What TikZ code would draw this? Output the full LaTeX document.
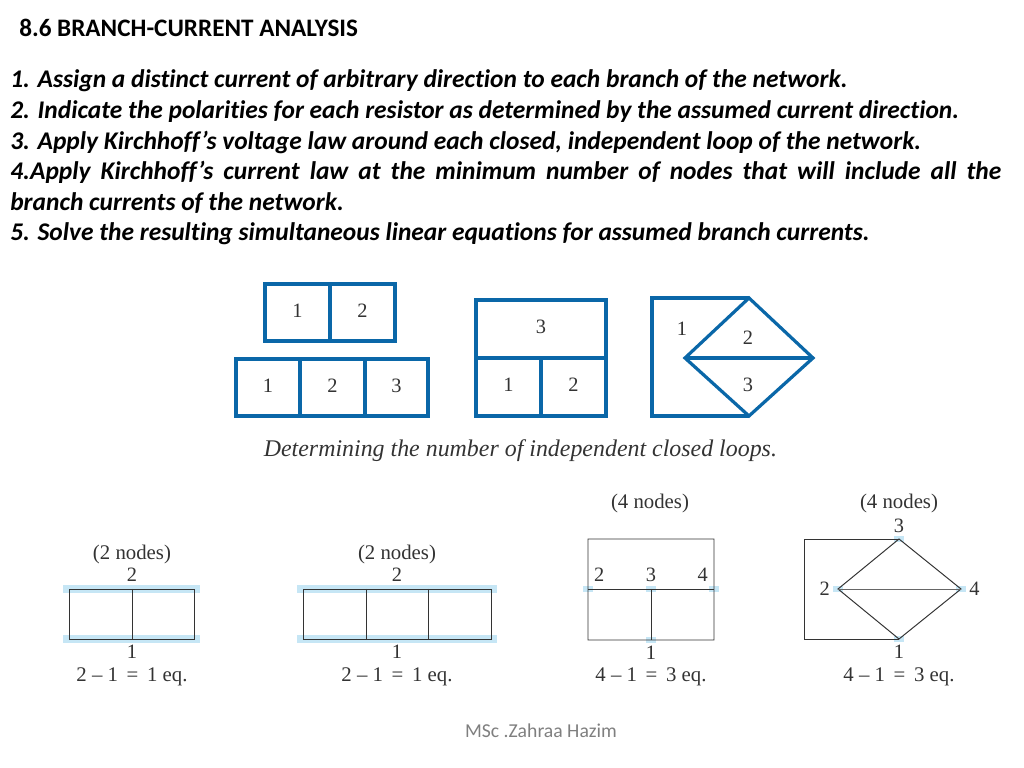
\documentclass[tikz,border=0pt]{standalone}
\usepackage{fontspec}
\setmainfont[Ligatures=NoCommon]{Carlito}
\newfontfamily\figfont{Liberation Serif}
\usepackage{tikz}
\usetikzlibrary{positioning, calc}
\usepackage{xcolor}
\definecolor{loopblue}{HTML}{0A67A8}
\definecolor{markblue}{HTML}{C6E6F5}
\definecolor{inkgray}{HTML}{333333}
\definecolor{footgray}{HTML}{7F7F7F}

\begin{document}
\begin{tikzpicture}[
    loop_line/.style={draw=loopblue, line width=2.8pt, line join=miter},
    thin_line/.style={draw=loopblue, line width=2.3pt},
    net_line/.style={draw=black!80, line width=.7pt},
    node_bar/.style={draw=markblue, line width=5pt, shorten >=-.14cm, shorten <=-.14cm},
    node_dot/.style={rectangle, fill=markblue, minimum width=.25cm, minimum height=.16cm, inner sep=0},
    digit/.style={inner sep=0, text=inkgray, font=\figfont\fontsize{14.5}{14.5}\selectfont},
    note/.style={inner sep=0, text=inkgray, font=\figfont\fontsize{14.8}{14.8}\selectfont}]
    \useasboundingbox (0,0) rectangle (25.6,19.2);

    % Heading
    \node[anchor=west, inner sep=0, font=\bfseries\fontsize{17.9}{20}\selectfont] (title) at (.475,18.5) {8.6 BRANCH-CURRENT ANALYSIS};
    \node[anchor=north west, inner sep=0, text width=24.775cm, align=justify,
        font=\bfseries\itshape\fontsize{18.1}{21.8}\selectfont] (steps) at (.25,17.46) {%
        1. Assign a distinct current of arbitrary direction to each branch of the network.\par
        2. Indicate the polarities for each resistor as determined by the assumed current direction.\par
        3. Apply Kirchhoff’s voltage law around each closed, independent loop of the network.\par
        4.Apply Kirchhoff’s current law at the minimum number of nodes that will include all the\linebreak branch currents of the network.\par
        5. Solve the resulting simultaneous linear equations for assumed branch currents.};

    % Two loops
    \coordinate (a0) at (6.625,12.1);
    \coordinate[right=1.625 of a0] (a1);
    \coordinate[right=1.625 of a1] (a2);
    \coordinate[below=1.425 of a0] (a3);
    \coordinate[below=1.425 of a1] (a4);
    \coordinate[below=1.425 of a2] (a5);
    \draw[loop_line] (a0) -- (a2) -- (a5) -- (a3) -- cycle;
    \draw[loop_line] (a1) -- (a4);
    \node[digit] (a_l1) at ($(a0)!.5!(a4)+(0,.05)$) {1};
    \node[digit] (a_l2) at ($(a1)!.5!(a5)+(0,.05)$) {2};

    % Three loops in a row
    \coordinate (b0) at (5.9,10.225);
    \coordinate[right=1.6 of b0] (b1);
    \coordinate[right=1.625 of b1] (b2);
    \coordinate[right=1.575 of b2] (b3);
    \coordinate[below=1.425 of b0] (b4);
    \coordinate[below=1.425 of b1] (b5);
    \coordinate[below=1.425 of b2] (b6);
    \coordinate[below=1.425 of b3] (b7);
    \draw[loop_line] (b0) -- (b3) -- (b7) -- (b4) -- cycle;
    \draw[loop_line] (b1) -- (b5);
    \draw[loop_line] (b2) -- (b6);
    \node[digit] (b_l1) at ($(b0)!.5!(b5)+(0,.05)$) {1};
    \node[digit] (b_l2) at ($(b1)!.5!(b6)+(0,.05)$) {2};
    \node[digit] (b_l3) at ($(b2)!.5!(b7)+(0,.05)$) {3};

    % Window shape
    \coordinate (c0) at (11.9,11.7);
    \coordinate[right=3.25 of c0] (c1);
    \coordinate[below=1.45 of c0] (c2);
    \coordinate[right=1.625 of c2] (c3);
    \coordinate[right=1.625 of c3] (c4);
    \coordinate[below=1.45 of c2] (c5);
    \coordinate[below=1.45 of c3] (c6);
    \coordinate[below=1.45 of c4] (c7);
    \draw[loop_line] (c0) -- (c1) -- (c7) -- (c5) -- cycle;
    \draw[loop_line] (c2) -- (c4);
    \draw[loop_line] (c3) -- (c6);
    \node[digit] (c_l3) at ($(c0)!.5!(c4)+(0,.05)$) {3};
    \node[digit] (c_l1) at ($(c2)!.5!(c6)+(0,.05)$) {1};
    \node[digit] (c_l2) at ($(c3)!.5!(c7)+(0,.05)$) {2};

    % Diamond shape
    \coordinate (d0) at (16.3,11.75);
    \coordinate[right=2.425 of d0] (d1);
    \coordinate[below left=1.5 and 1.6 of d1] (d2);
    \coordinate[below right=1.5 and 1.6 of d1] (d3);
    \coordinate[below=2.95 of d1] (d4);
    \coordinate[below=2.95 of d0] (d5);
    \draw[loop_line] (d4) -- (d5) -- (d0) -- (d1);
    \draw[thin_line] (d1) -- (d3) -- (d4) -- (d2) -- cycle;
    \draw[thin_line] (d2) -- (d3);
    \node[digit] (d_l1) at (17.05,10.975) {1};
    \node[digit] (d_l2) at (18.7,10.75) {2};
    \node[digit] (d_l3) at (18.7,9.575) {3};

    \node[inner sep=0, text=inkgray, font=\figfont\itshape\fontsize{17}{17}\selectfont] (caption) at (13.01,7.925) {Determining the number of independent closed loops.};

    % Network 1
    \coordinate (e0) at (1.725,4.475);
    \coordinate[right=1.575 of e0] (e1);
    \coordinate[right=1.55 of e1] (e2);
    \coordinate[below=1.25 of e0] (e3);
    \coordinate[below=1.25 of e1] (e4);
    \coordinate[below=1.25 of e2] (e5);
    \draw[node_bar] (e0) -- (e2);
    \draw[node_bar] (e3) -- (e5);
    \draw[net_line] (e0) -- (e2) -- (e5) -- (e3) -- cycle;
    \draw[net_line] (e1) -- (e4);
    \node[digit, above=.17 of e1] (e_top) {2};
    \node[note, above=.1 of e_top] (e_count) {(2 nodes)};
    \node[digit, below=.15 of e4] (e_bot) {1};
    \node[note, below=.22 of e_bot] (e_eq) {2 – 1 \,=\, 1 eq.};

    % Network 2
    \coordinate (f0) at (7.575,4.475);
    \coordinate[right=1.575 of f0] (f1);
    \coordinate[right=1.55 of f1] (f2);
    \coordinate[right=1.575 of f2] (f3);
    \coordinate[below=1.25 of f0] (f4);
    \coordinate[below=1.25 of f1] (f5);
    \coordinate[below=1.25 of f2] (f6);
    \coordinate[below=1.25 of f3] (f7);
    \coordinate (f_mid) at ($(f0)!.5!(f3)$);
    \coordinate (f_low) at ($(f4)!.5!(f7)$);
    \draw[node_bar] (f0) -- (f3);
    \draw[node_bar] (f4) -- (f7);
    \draw[net_line] (f0) -- (f3) -- (f7) -- (f4) -- cycle;
    \draw[net_line] (f1) -- (f5);
    \draw[net_line] (f2) -- (f6);
    \node[digit, above=.17 of f_mid] (f_top) {2};
    \node[note, above=.1 of f_top] (f_count) {(2 nodes)};
    \node[digit, below=.15 of f_low] (f_bot) {1};
    \node[note, below=.22 of f_bot] (f_eq) {2 – 1 \,=\, 1 eq.};

    % Network 3
    \coordinate (g0) at (14.7,5.725);
    \coordinate[right=3.15 of g0] (g1);
    \coordinate[below=1.25 of g0] (g2);
    \coordinate[right=1.575 of g2] (g3);
    \coordinate[right=1.575 of g3] (g4);
    \coordinate[below=1.275 of g2] (g5);
    \coordinate[below=1.275 of g3] (g6);
    \coordinate[below=1.275 of g4] (g7);
    \node[node_dot] (g_m2) at (g2) {};
    \node[node_dot] (g_m3) at (g3) {};
    \node[node_dot] (g_m4) at (g4) {};
    \node[node_dot] (g_m1) at (g6) {};
    \draw[net_line] (g0) -- (g1) -- (g7) -- (g5) -- cycle;
    \draw[net_line] (g2) -- (g4);
    \draw[net_line] (g3) -- (g6);
    \node[digit, above=.17 of g2, xshift=.28cm] (g_l2) {2};
    \node[digit, above=.17 of g3] (g_l3) {3};
    \node[digit, above=.17 of g4, xshift=-.28cm] (g_l4) {4};
    \node[note] (g_count) at (16.25,6.6) {(4 nodes)};
    \node[digit, below=.15 of g6] (g_l1) {1};
    \node[note, below=.18 of g_l1] (g_eq) {4 – 1 \,=\, 3 eq.};

    % Network 4
    \coordinate (h0) at (20.1,5.725);
    \coordinate[right=2.375 of h0] (h1);
    \coordinate[below left=1.25 and 1.525 of h1] (h2);
    \coordinate[below right=1.25 and 1.55 of h1] (h3);
    \coordinate[below=2.5 of h1] (h4);
    \coordinate[below=2.5 of h0] (h5);
    \node[node_dot] (h_m3) at (h1) {};
    \node[node_dot] (h_m2) at (h2) {};
    \node[node_dot] (h_m4) at (h3) {};
    \node[node_dot] (h_m1) at (h4) {};
    \draw[net_line] (h4) -- (h5) -- (h0) -- (h1);
    \draw[net_line] (h1) -- (h3) -- (h4) -- (h2) -- cycle;
    \draw[net_line, draw=black!60] (h2) -- (h3);
    \node[digit, above=.15 of h1] (h_l3) {3};
    \node[note, above=.15 of h_l3] (h_count) {(4 nodes)};
    \node[digit, left=.2 of h2] (h_l2) {2};
    \node[digit, right=.2 of h3] (h_l4) {4};
    \node[digit, below=.15 of h4] (h_l1) {1};
    \node[note, below=.22 of h_l1] (h_eq) {4 – 1 \,=\, 3 eq.};

    % Footer
    \node[inner sep=0, text=footgray, font=\fontsize{14}{16}\selectfont] (footer) at (13.525,.925) {MSc .Zahraa Hazim};
\end{tikzpicture}
\end{document}
